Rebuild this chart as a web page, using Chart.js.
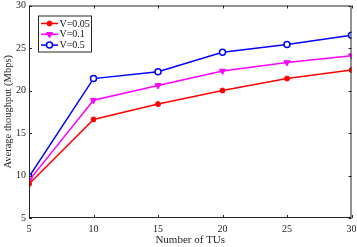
<!DOCTYPE html>
<html>
<head>
<meta charset="utf-8">
<script src="https://cdn.jsdelivr.net/npm/chart.js@4.4.0/dist/chart.umd.min.js"></script>
<style>
  html, body { margin: 0; padding: 0; background: #fff; }
  #wrap { width: 357px; height: 247px; }
</style>
</head>
<body>
<div id="wrap"><canvas id="chart-throughput"></canvas></div>
<script>
// data
const tus = [5, 10, 15, 20, 25, 30];
const v005 = [9.0, 16.6, 18.4, 20.0, 21.4, 22.4];
const v01 = [9.4, 18.85, 20.6, 22.3, 23.3, 24.1];
const v05 = [9.85, 21.4, 22.2, 24.5, 25.4, 26.5];
const seriesLabels = ['V=0.05', 'V=0.1', 'V=0.5'];
const yTicks = [5, 10, 15, 20, 25, 30];

const axisColor = '#262626';
const fontFam = "'Liberation Serif', 'Times New Roman', serif";

// box round the plot with inward ticks on all four sides (matlab look)
const boxTicks = {
    id: 'boxTicks',
    afterDraw(chart) {
        const c = chart.ctx, a = chart.chartArea;
        const xs = chart.scales.x, ys = chart.scales.y;
        c.save();
        c.strokeStyle = axisColor;
        c.lineWidth = 1;
        c.strokeRect(a.left + 0.5, a.top + 0.5, a.right - a.left - 1, a.bottom - a.top - 1);
        c.beginPath();
        tus.forEach(v => {
            const px = Math.round(xs.getPixelForValue(v)) + 0.5;
            c.moveTo(px, a.bottom); c.lineTo(px, a.bottom - 3);
            c.moveTo(px, a.top); c.lineTo(px, a.top + 3);
        });
        yTicks.forEach(v => {
            const py = Math.round(ys.getPixelForValue(v)) + 0.5;
            c.moveTo(a.left, py); c.lineTo(a.left + 3, py);
            c.moveTo(a.right, py); c.lineTo(a.right - 3, py);
        });
        c.stroke();
        c.restore();
    }
};

// legend with line + marker samples
const lineLegend = {
    id: 'lineLegend',
    afterDraw(chart) {
        const c = chart.ctx, a = chart.chartArea;
        const x0 = a.left + 9, y0 = a.top + 10, w = 53, h = 36;
        c.save();
        c.fillStyle = '#fff';
        c.fillRect(x0, y0, w, h);
        c.strokeStyle = axisColor;
        c.lineWidth = 1;
        c.strokeRect(x0 + 0.5, y0 + 0.5, w, h);
        chart.data.datasets.forEach((ds, i) => {
            const y = y0 + 8 + i * 10.8;
            c.strokeStyle = ds.borderColor;
            c.lineWidth = 1.5;
            c.beginPath();
            c.moveTo(x0 + 3, y); c.lineTo(x0 + 20, y);
            c.stroke();
            c.fillStyle = ds.pointBackgroundColor;
            c.strokeStyle = ds.borderColor;
            c.lineWidth = ds.pointBorderWidth;
            Chart.helpers.drawPoint(c, {
                pointStyle: ds.pointStyle,
                radius: ds.pointRadius,
                rotation: ds.pointRotation || 0,
                borderWidth: ds.pointBorderWidth
            }, x0 + 11.5, y);
            c.fillStyle = '#111';
            c.font = '10px ' + fontFam;
            c.textBaseline = 'middle';
            c.fillText(ds.label, x0 + 21.5, y + 0.5);
        });
        c.restore();
    }
};

// drop the label overhang padding so layout.padding sets the plot edges
function noOverhang(s) {
    s.paddingLeft = 0; s.paddingRight = 0;
    s.paddingTop = 0; s.paddingBottom = 0;
}

const ctx = document.getElementById('chart-throughput').getContext('2d');
const chart_throughput = new Chart(ctx, {
    type: 'line',
    data: {
        datasets: [{
            label: seriesLabels[0],
            data: tus.map((t, i) => ({ x: t, y: v005[i] })),
            borderColor: '#ff0000',
            pointBackgroundColor: '#ff0000',
            pointStyle: 'circle',
            pointRadius: 2.5,
            pointBorderWidth: 1,
            borderWidth: 1.5
        }, {
            label: seriesLabels[1],
            data: tus.map((t, i) => ({ x: t, y: v01[i] })),
            borderColor: '#ff00ff',
            pointBackgroundColor: '#ff00ff',
            pointStyle: 'triangle',
            pointRotation: 180,
            pointRadius: 3.5,
            pointBorderWidth: 1,
            borderWidth: 1.5
        }, {
            label: seriesLabels[2],
            data: tus.map((t, i) => ({ x: t, y: v05[i] })),
            borderColor: '#0000ff',
            pointBackgroundColor: '#ffffff',
            pointStyle: 'circle',
            pointRadius: 3,
            pointBorderWidth: 1.5,
            borderWidth: 1.5
        }]
    },
    options: {
        animation: false,
        responsive: true,
        maintainAspectRatio: false,
        layout: {
            padding: { left: 0, right: 5, top: 5, bottom: 0 }
        },
        scales: {
            x: {
                type: 'linear',
                min: 5,
                max: 30,
                grid: { display: false, drawTicks: false },
                border: { display: false },
                afterFit: s => { s.height = 29; noOverhang(s); },
                afterBuildTicks: s => { s.ticks = tus.map(v => ({ value: v })); },
                ticks: {
                    color: axisColor,
                    padding: 5,
                    maxRotation: 0,
                    font: { family: fontFam, size: 10 }
                },
                title: {
                    display: true,
                    text: 'Number of TUs',
                    color: axisColor,
                    padding: { top: 0, bottom: 0 },
                    font: { family: fontFam, size: 11 }
                }
            },
            y: {
                min: 5,
                max: 30,
                grid: { display: false, drawTicks: false },
                border: { display: false },
                afterFit: s => { s.width = 29; noOverhang(s); },
                afterBuildTicks: s => { s.ticks = yTicks.map(v => ({ value: v })); },
                ticks: {
                    color: axisColor,
                    padding: 3,
                    font: { family: fontFam, size: 10 }
                },
                title: {
                    display: true,
                    text: 'Average thoughput (Mbps)',
                    color: axisColor,
                    padding: { top: 2, bottom: 0 },
                    font: { family: fontFam, size: 10.5 }
                }
            }
        },
        plugins: {
            legend: { display: false },
            tooltip: { enabled: false }
        }
    },
    plugins: [boxTicks, lineLegend]
});
</script>
</body>
</html>
